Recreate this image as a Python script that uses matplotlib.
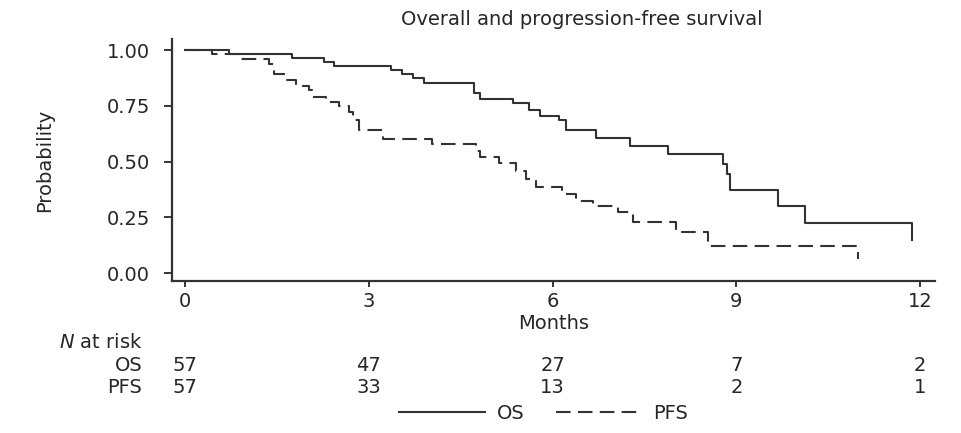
"""
Kaplan-Meier style plot: overall and progression-free survival with number at risk.
"""
import matplotlib
matplotlib.use("Agg")
import matplotlib.pyplot as plt
import matplotlib.transforms as mtransforms
from matplotlib.lines import Line2D

plt.rcParams["font.family"] = ["DejaVu Sans"]

# ── Step data (month, survival probability) ──────────────────────────────────
os_months = [0, 0.72, 1.75, 2.27, 2.44, 3.36, 3.55, 3.72, 3.90, 4.72, 4.82,
             5.35, 5.62, 5.79, 6.10, 6.22, 6.71, 7.26, 7.88, 8.78, 8.85, 8.90,
             9.68, 10.12, 11.86]
os_prob = [1.0, 0.982, 0.965, 0.947, 0.930, 0.912, 0.895, 0.877, 0.855, 0.81, 0.78,
           0.763, 0.73, 0.707, 0.685, 0.64, 0.607, 0.572, 0.535, 0.49, 0.445, 0.372,
           0.302, 0.224, 0.147]

pfs_months = [0, 0.45, 0.88, 1.37, 1.46, 1.65, 1.81, 2.03, 2.08, 2.30, 2.52,
              2.68, 2.74, 2.84, 3.23, 4.04, 4.75, 4.82, 5.13, 5.41, 5.57, 5.73,
              6.15, 6.39, 6.66, 7.07, 7.31, 8.02, 8.54, 10.99]
pfs_prob = [1.0, 0.982, 0.963, 0.94, 0.895, 0.865, 0.842, 0.823, 0.79, 0.767, 0.752,
            0.722, 0.685, 0.643, 0.602, 0.58, 0.55, 0.52, 0.492, 0.46, 0.422, 0.387,
            0.355, 0.324, 0.302, 0.272, 0.227, 0.185, 0.122, 0.062]

# ── Number at risk ───────────────────────────────────────────────────────────
risk_months = [0, 3, 6, 9, 12]
os_at_risk = [57, 47, 27, 7, 2]
pfs_at_risk = [57, 33, 13, 2, 1]

x_ticks = [0, 3, 6, 9, 12]
y_ticks = [0.0, 0.25, 0.5, 0.75, 1.0]

LINE_COL = "#333333"
TXT_COL = "#262626"
FS = 14

fig = plt.figure(figsize=(9.62, 4.33), dpi=100)
ax = fig.add_axes([0.1788, 0.351, 0.7931, 0.5585])

ax.step(os_months, os_prob, where="post", color=LINE_COL, lw=1.5, label="OS")
ax.step(pfs_months, pfs_prob, where="post", color=LINE_COL, lw=1.5,
        dashes=(7, 3.5), label="PFS")

ax.set_xlim(-0.21, 12.24)
ax.set_ylim(-0.036, 1.05)
ax.set_xticks(x_ticks)
ax.set_yticks(y_ticks)
ax.set_yticklabels([f"{v:.2f}" for v in y_ticks])
ax.spines["top"].set_visible(False)
ax.spines["right"].set_visible(False)
for s in ("left", "bottom"):
    ax.spines[s].set_linewidth(1.6)
    ax.spines[s].set_color(LINE_COL)
ax.tick_params(axis="y", length=6, width=1.3, pad=10, labelsize=FS, colors=TXT_COL)
ax.tick_params(axis="x", length=4, width=1.3, pad=4, labelsize=FS, colors=TXT_COL)
ax.set_ylabel("Probability", fontsize=FS, color=TXT_COL)
ax.yaxis.set_label_coords(-0.155, 0.5)
ax.set_xlabel("Months", fontsize=FS, color=TXT_COL, labelpad=2)
fig.text(0.605, 0.955, "Overall and progression-free survival", ha="center",
         va="center", fontsize=FS, color=TXT_COL)

# ── Number-at-risk table ─────────────────────────────────────────────────────
trans = mtransforms.blended_transform_factory(ax.transData, fig.transFigure)
fig.text(0.148, 0.208, r"$N$ at risk", ha="right", va="center", fontsize=FS, color=TXT_COL)
fig.text(0.148, 0.155, "OS", ha="right", va="center", fontsize=FS, color=TXT_COL)
fig.text(0.148, 0.106, "PFS", ha="right", va="center", fontsize=FS, color=TXT_COL)
for m, o, p in zip(risk_months, os_at_risk, pfs_at_risk):
    ax.text(m, 0.155, str(o), transform=trans, ha="center", va="center",
            fontsize=FS, color=TXT_COL)
    ax.text(m, 0.106, str(p), transform=trans, ha="center", va="center",
            fontsize=FS, color=TXT_COL)

handles = [Line2D([], [], color=LINE_COL, lw=1.5),
           Line2D([], [], color=LINE_COL, lw=1.5, dashes=(7, 3.5))]
fig.legend(handles, ["OS", "PFS"], loc="center", bbox_to_anchor=(0.565, 0.046),
           ncol=2, frameon=False, fontsize=FS, handlelength=4.4,
           handletextpad=0.6, columnspacing=1.6, labelcolor=TXT_COL)

fig.savefig("out.png", dpi=100)
plt.close(fig)
